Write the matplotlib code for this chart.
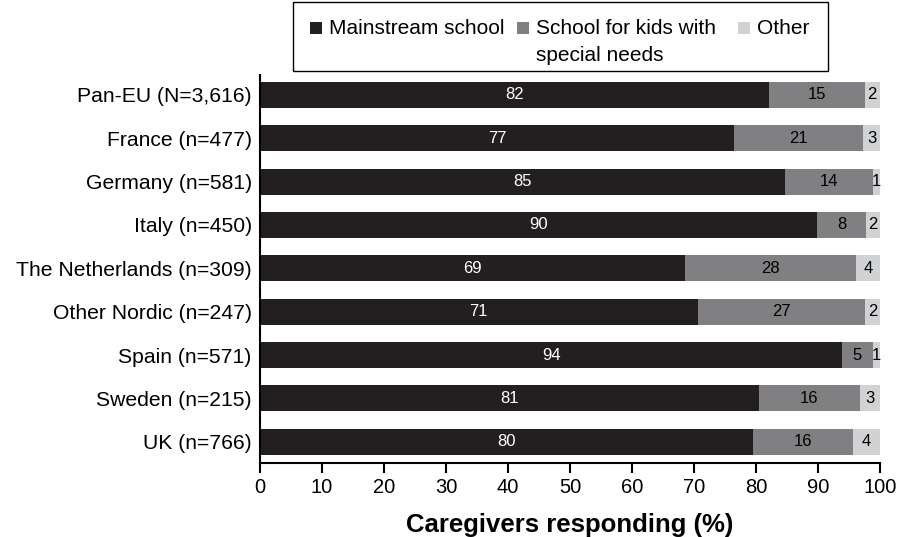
"""
caregivers by school type, stacked horizontal bars
"""

import matplotlib
matplotlib.use("Agg")
import matplotlib.pyplot as plt
from matplotlib.patches import Rectangle
import numpy as np

plt.rcParams['font.family'] = ['Liberation Sans', 'DejaVu Sans']

countries = ["Pan-EU (N=3,616)", "France (n=477)", "Germany (n=581)", "Italy (n=450)",
             "The Netherlands (n=309)", "Other Nordic (n=247)", "Spain (n=571)",
             "Sweden (n=215)", "UK (n=766)"]

# segment widths (unrounded so each bar reaches 100)
mainstream = [82.1, 76.5, 84.7, 89.8, 68.6, 70.6, 93.9, 80.5, 79.5]
special = [15.4, 20.8, 14.1, 8.0, 27.5, 27.0, 4.9, 16.2, 16.1]
other = [2.5, 2.7, 1.2, 2.2, 3.9, 2.4, 1.2, 3.3, 4.4]

# printed labels
mainstream_lbl = [82, 77, 85, 90, 69, 71, 94, 81, 80]
special_lbl = [15, 21, 14, 8, 28, 27, 5, 16, 16]
other_lbl = [2, 3, 1, 2, 4, 2, 1, 3, 4]

legend_labels = ["Mainstream school", "School for kids with\nspecial needs", "Other"]

c_main = "#231f20"
c_spec = "#808083"
c_other = "#d1d2d4"

W, H = 899, 537
fig = plt.figure(figsize=(W / 100, H / 100), dpi=100)
ax = fig.add_axes([260 / W, 1 - 463 / H, 620 / W, 388 / H])

y = np.arange(len(countries))
h = 0.6
ax.barh(y, mainstream, height=h, color=c_main)
ax.barh(y, special, left=mainstream, height=h, color=c_spec)
left2 = np.array(mainstream) + np.array(special)
ax.barh(y, other, left=left2, height=h, color=c_other)

for i in range(len(countries)):
    ax.text(mainstream[i] / 2, y[i], str(mainstream_lbl[i]), ha='center', va='center',
            color='white', fontsize=12)
    ax.text(mainstream[i] + special[i] / 2, y[i], str(special_lbl[i]), ha='center', va='center',
            color='black', fontsize=12)
    ax.text(left2[i] + other[i] / 2, y[i], str(other_lbl[i]), ha='center', va='center',
            color='black', fontsize=12)

ax.set_xlim(0, 100)
ax.set_ylim(8.49, -0.46)
ax.set_xticks(range(0, 101, 10))
ax.set_yticks(y)
ax.set_yticklabels(countries)
ax.tick_params(axis='x', labelsize=14.5, length=7, width=1.5, direction='out', pad=4)
ax.tick_params(axis='y', labelsize=15.2, length=0, pad=6)
for s in ['top', 'right']:
    ax.spines[s].set_visible(False)
ax.spines['left'].set_linewidth(1.5)
ax.spines['bottom'].set_linewidth(1.5)
ax.set_xlabel("Caregivers responding (%)", fontsize=18.5, fontweight='bold', labelpad=11)

# legend drawn by hand so the wrapped label keeps its first line level with the others
def fx(px):
    return px / W

def fy(py):
    return 1 - py / H

fig.add_artist(Rectangle((fx(293), fy(71)), fx(828) - fx(293), fy(2) - fy(71),
                         transform=fig.transFigure, facecolor='white', edgecolor='black',
                         linewidth=1.0))
sq = 12
for x0, col, lab in zip([310, 517, 738], [c_main, c_spec, c_other], legend_labels):
    fig.add_artist(Rectangle((fx(x0), fy(22 + sq)), sq / W, sq / H,
                             transform=fig.transFigure, facecolor=col, edgecolor='none'))
    fig.text(fx(x0 + sq + 7), fy(19), lab, fontsize=15, ha='left', va='top',
             linespacing=1.55)

fig.savefig("out.png", dpi=100)
